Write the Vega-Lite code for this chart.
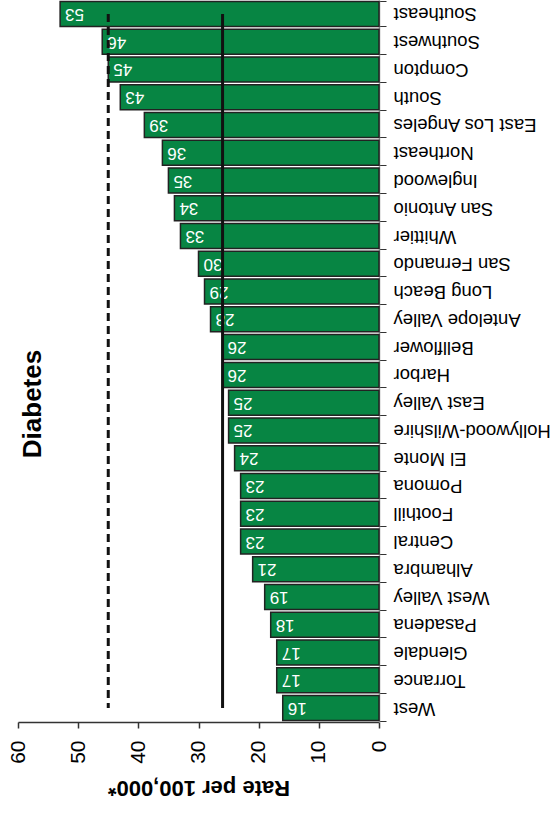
{
  "$schema": "https://vega.github.io/schema/vega-lite/v6.json",
  "width": 361,
  "height": 722,
  "autosize": {"type": "none"},
  "padding": {"left": 18, "top": 0, "right": 173, "bottom": 92},
  "background": "white",
  "config": {"view": {"stroke": null}, "font": "Liberation Sans"},
  "title": {"text": "Diabetes", "orient": "left", "anchor": "middle", "fontSize": 26, "fontWeight": "bold", "font": "Liberation Sans", "color": "black", "offset": -39, "dx": -43},
  "datasets": {
    "rates": [
      {"area": "Southeast", "rate": 53},
      {"area": "Southwest", "rate": 46},
      {"area": "Compton", "rate": 45},
      {"area": "South", "rate": 43},
      {"area": "East Los Angeles", "rate": 39},
      {"area": "Northeast", "rate": 36},
      {"area": "Inglewood", "rate": 35},
      {"area": "San Antonio", "rate": 34},
      {"area": "Whittier", "rate": 33},
      {"area": "San Fernando", "rate": 30},
      {"area": "Long Beach", "rate": 29},
      {"area": "Antelope Valley", "rate": 28},
      {"area": "Bellflower", "rate": 26},
      {"area": "Harbor", "rate": 26},
      {"area": "East Valley", "rate": 25},
      {"area": "Hollywood-Wilshire", "rate": 25},
      {"area": "El Monte", "rate": 24},
      {"area": "Pomona", "rate": 23},
      {"area": "Foothill", "rate": 23},
      {"area": "Central", "rate": 23},
      {"area": "Alhambra", "rate": 21},
      {"area": "West Valley", "rate": 19},
      {"area": "Pasadena", "rate": 18},
      {"area": "Glendale", "rate": 17},
      {"area": "Torrance", "rate": 17},
      {"area": "West", "rate": 16}
    ],
    "refs": [
      {"name": "solid", "rate": 26},
      {"name": "dashed", "rate": 45}
    ]
  },
  "layer": [
    {
      "data": {"name": "rates"},
      "mark": {"type": "bar", "color": "#078543", "stroke": "#222222", "strokeWidth": 1.5},
      "encoding": {
        "y": {
          "field": "area", "type": "nominal", "sort": null,
          "scale": {"paddingInner": 0.1, "paddingOuter": 0.05},
          "axis": {
            "orient": "right", "title": null, "labelAngle": 180, "labelAlign": "right", "labelBaseline": "middle",
            "labelFontSize": 18.5, "labelColor": "black", "labelPadding": 7, "tickBand": "extent",
            "tickSize": 7, "tickColor": "#333333", "domainColor": "#999999", "domainWidth": 1.5
          }
        },
        "x": {
          "field": "rate", "type": "quantitative",
          "scale": {"domain": [0, 60], "reverse": true, "nice": false},
          "axis": {
            "orient": "bottom", "values": [0, 10, 20, 30, 40, 50, 60], "grid": false,
            "title": "Rate per 100,000*", "titleAngle": 180, "titleFontSize": 22, "titleFontWeight": "bold",
            "titleColor": "black", "titlePadding": 24, "titleBaseline": "middle",
            "labelAngle": 270, "labelFontSize": 21, "labelColor": "black", "labelPadding": 12,
            "tickSize": 6, "tickColor": "#333333", "domainColor": "#333333", "domainWidth": 1.5, "tickWidth": 1.5
          }
        }
      }
    },
    {
      "data": {"name": "rates"},
      "mark": {"type": "text", "angle": 180, "align": "right", "baseline": "middle", "dx": -5, "color": "white", "fontSize": 17},
      "encoding": {
        "y": {"field": "area", "type": "nominal", "sort": null},
        "x": {"field": "rate", "type": "quantitative"},
        "text": {"field": "rate", "type": "quantitative"}
      }
    },
    {
      "data": {"name": "refs"},
      "transform": [{"filter": "datum.name === 'solid'"}],
      "mark": {"type": "rule", "color": "#111111", "strokeWidth": 3},
      "encoding": {
        "x": {"field": "rate", "type": "quantitative"},
        "y": {"datum": "Southeast"},
        "y2": {"datum": "West"}
      }
    },
    {
      "data": {"name": "refs"},
      "transform": [{"filter": "datum.name === 'dashed'"}],
      "mark": {"type": "rule", "color": "#111111", "strokeWidth": 3, "strokeDash": [8, 5]},
      "encoding": {
        "x": {"field": "rate", "type": "quantitative"},
        "y": {"datum": "Southeast"},
        "y2": {"datum": "West"}
      }
    }
  ]
}
